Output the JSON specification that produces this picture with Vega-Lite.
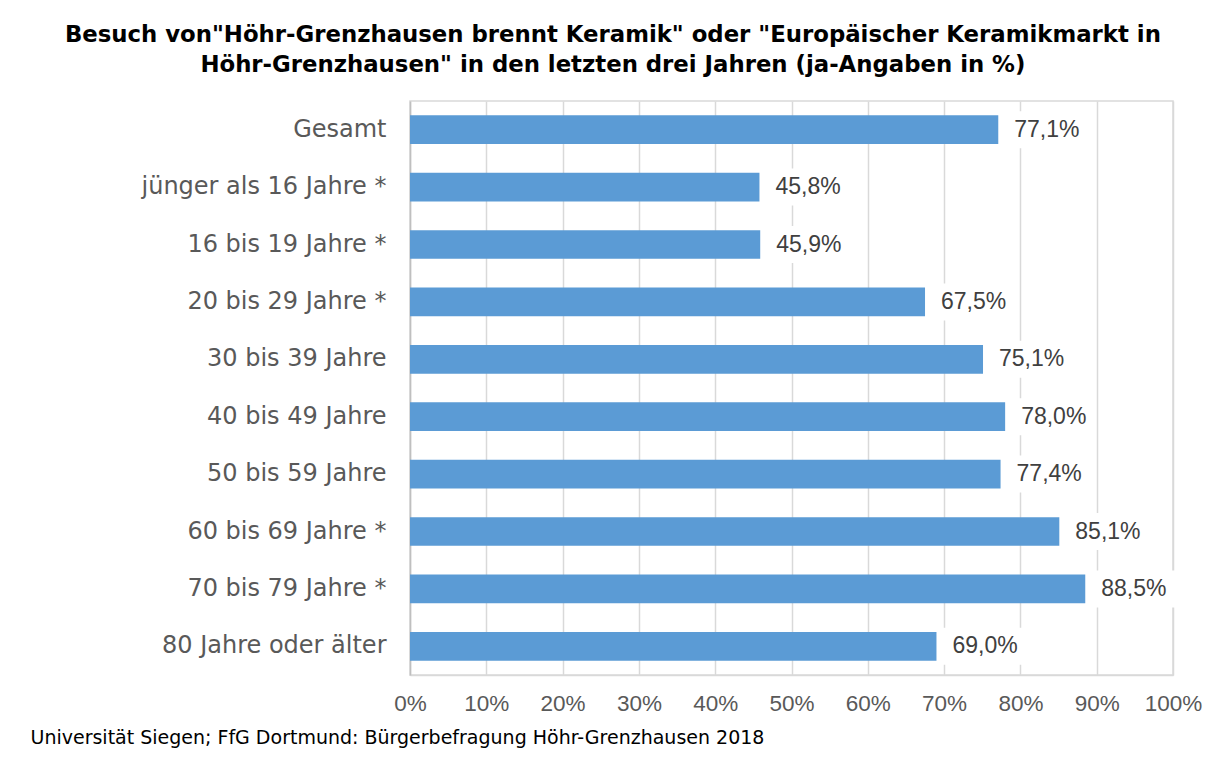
{
  "$schema": "https://vega.github.io/schema/vega-lite/v6.json",
  "width": 763,
  "height": 574,
  "padding": {"left": 30, "top": 24, "right": 5, "bottom": 5},
  "background": "white",
  "config": {
    "view": {"stroke": "#d9d9d9", "strokeWidth": 1.5},
    "locale": {"number": {"decimal": ",", "thousands": ".", "grouping": [3], "currency": ["", " €"]}}
  },
  "title": {
    "text": ["Besuch von\"Höhr-Grenzhausen brennt Keramik\"  oder \"Europäischer Keramikmarkt in", "Höhr-Grenzhausen\" in den letzten drei Jahren (ja-Angaben in %)"],
    "font": "DejaVu Sans",
    "fontSize": 22.8,
    "fontWeight": "bold",
    "color": "black",
    "lineHeight": 30,
    "frame": "bounds",
    "anchor": "middle",
    "dx": -3,
    "offset": 24
  },
  "data": {
    "values": [
      {"gruppe": "Gesamt", "anteil": 0.771},
      {"gruppe": "jünger als 16 Jahre *", "anteil": 0.458},
      {"gruppe": "16 bis 19 Jahre *", "anteil": 0.459},
      {"gruppe": "20 bis 29 Jahre *", "anteil": 0.675},
      {"gruppe": "30 bis 39 Jahre", "anteil": 0.751},
      {"gruppe": "40 bis 49 Jahre", "anteil": 0.780},
      {"gruppe": "50 bis 59 Jahre", "anteil": 0.774},
      {"gruppe": "60 bis 69 Jahre *", "anteil": 0.851},
      {"gruppe": "70 bis 79 Jahre *", "anteil": 0.885},
      {"gruppe": "80 Jahre oder älter", "anteil": 0.690}
    ]
  },
  "encoding": {
    "y": {
      "field": "gruppe",
      "type": "nominal",
      "sort": null,
      "scale": {"paddingInner": 0.5, "paddingOuter": 0.25},
      "axis": {
        "title": null,
        "labelFont": "DejaVu Sans",
        "labelFontSize": 24,
        "labelColor": "#595959",
        "labelPadding": 24,
        "labelLimit": 0,
        "ticks": false,
        "domainColor": "#bfbfbf",
        "domainWidth": 1.5
      }
    }
  },
  "layer": [
    {
      "mark": {"type": "bar", "color": "#5b9bd5"},
      "encoding": {
        "x": {
          "field": "anteil",
          "type": "quantitative",
          "scale": {"domain": [0, 1], "nice": false},
          "axis": {
            "values": [0, 0.1, 0.2, 0.3, 0.4, 0.5, 0.6, 0.7, 0.8, 0.9, 1],
            "format": "0%",
            "grid": true,
            "gridColor": "#d9d9d9",
            "gridWidth": 1.5,
            "ticks": false,
            "domainColor": "#d9d9d9",
            "domainWidth": 1.5,
            "labelFont": "Liberation Sans",
            "labelFontSize": 22.5,
            "labelColor": "#595959",
            "labelPadding": 17,
            "labelFlush": false,
            "labelOverlap": false,
            "title": "Universität Siegen; FfG Dortmund: Bürgerbefragung Höhr-Grenzhausen 2018",
            "titleFont": "DejaVu Sans",
            "titleFontSize": 19,
            "titleFontWeight": "normal",
            "titleColor": "black",
            "titleAlign": "left",
            "titleAnchor": "start",
            "titleBaseline": "alphabetic",
            "titleX": -380,
            "titleY": 68
          }
        }
      }
    },
    {
      "mark": {"type": "bar", "color": "white", "height": 37, "xOffset": 6, "x2Offset": 90},
      "encoding": {
        "x": {"field": "anteil", "type": "quantitative"},
        "x2": {"field": "anteil"}
      }
    },
    {
      "mark": {"type": "text", "align": "left", "baseline": "middle", "dx": 16, "font": "Liberation Sans", "fontSize": 23, "color": "#404040"},
      "encoding": {
        "x": {"field": "anteil", "type": "quantitative"},
        "text": {"field": "anteil", "type": "quantitative", "format": ".1%"}
      }
    }
  ]
}
